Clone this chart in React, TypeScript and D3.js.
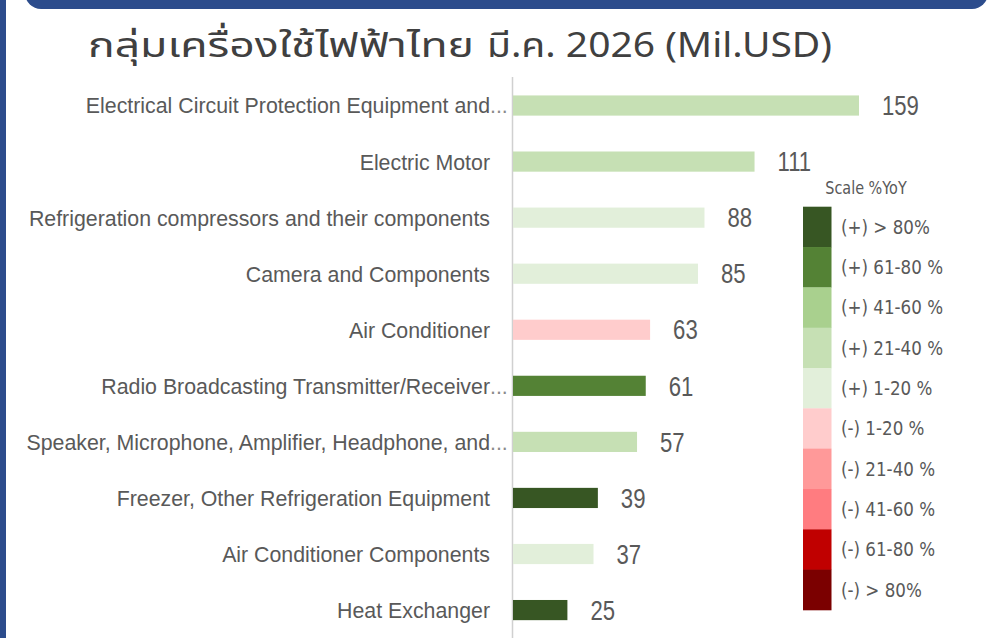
import React from "react";
import * as d3 from "d3";

const titleThai = "กลุ่มเครื่องใช้ไฟฟ้าไทย";
const titleRest = "มี.ค. 2026 (Mil.USD)";

const categories = [
  "Electrical Circuit Protection Equipment and...",
  "Electric Motor",
  "Refrigeration compressors and their components",
  "Camera and Components",
  "Air Conditioner",
  "Radio Broadcasting Transmitter/Receiver...",
  "Speaker, Microphone, Amplifier, Headphone, and...",
  "Freezer, Other Refrigeration Equipment",
  "Air Conditioner Components",
  "Heat Exchanger",
];

const values = [159, 111, 88, 85, 63, 61, 57, 39, 37, 25];

const yoyBucket = [
  "(+) 21-40 %",
  "(+) 21-40 %",
  "(+) 1-20 %",
  "(+) 1-20 %",
  "(-) 1-20 %",
  "(+) 61-80 %",
  "(+) 21-40 %",
  "(+) > 80%",
  "(+) 1-20 %",
  "(+) > 80%",
];

const legendTitle = "Scale %YoY";
const legendLabels = [
  "(+) > 80%",
  "(+) 61-80 %",
  "(+) 41-60 %",
  "(+) 21-40 %",
  "(+) 1-20 %",
  "(-) 1-20 %",
  "(-) 21-40 %",
  "(-) 41-60 %",
  "(-) 61-80 %",
  "(-) > 80%",
];
const legendColors = [
  "#375623",
  "#548235",
  "#A9D08E",
  "#C6E0B4",
  "#E2EFDA",
  "#FFCCCC",
  "#FF9999",
  "#FF7C80",
  "#C00000",
  "#7B0000",
];

const W = 999;
const H = 638;
const BLUE = "#2C4C8C";
const TEXT = "#595959";

export default function App() {
  const color = d3.scaleOrdinal<string, string>().domain(legendLabels).range(legendColors);
  const x = d3.scaleLinear().domain([0, 159]).range([513, 859]);
  const y = d3
    .scaleBand<string>()
    .domain(categories)
    .range([77.5, 638.1])
    .paddingInner(0.64)
    .paddingOuter(0.32);
  const ly = d3.scaleBand<string>().domain(legendLabels).range([206.7, 610]);

  const labelFont = "'Liberation Sans', Arial, sans-serif";
  const legendFont = "'DejaVu Sans', Verdana, sans-serif";
  const titleFont = "'Noto Sans Thai', 'Noto Sans', sans-serif";

  return (
    <svg
      width={W}
      height={H}
      style={{ position: "absolute", left: 0, top: 0, background: "#fff" }}
    >
      <rect x={0} y={0} width={W} height={H} fill="#fff" />
      {/* frame */}
      <rect x={0} y={0} width={6} height={H} fill={BLUE} />
      <rect x={25} y={-30} width={963} height={39} rx={16} ry={16} fill={BLUE} />

      {/* title */}
      <text
        x={88}
        y={57}
        fontFamily={titleFont}
        fontSize={34}
        fill="#404040"
        textLength={386}
        lengthAdjust="spacingAndGlyphs"
      >
        {titleThai}
      </text>
      <text
        x={487}
        y={57}
        fontFamily={titleFont}
        fontSize={34}
        fill="#404040"
        textLength={345}
        lengthAdjust="spacingAndGlyphs"
      >
        {titleRest}
      </text>

      {/* axis line */}
      <line x1={512.5} x2={512.5} y1={77} y2={H} stroke="#D0D0D0" strokeWidth={1.5} />

      {/* bars */}
      {categories.map((c, i) => {
        const yc = (y(c) as number) + y.bandwidth() / 2;
        const trunc = c.endsWith("...");
        const main = trunc ? c.slice(0, -3) : c;
        return (
          <g key={c}>
            <rect
              x={x(0)}
              y={y(c) as number}
              width={x(values[i]) - x(0)}
              height={y.bandwidth()}
              fill={color(yoyBucket[i])}
            />
            <text
              transform={`translate(490,${yc}) scale(0.97,1)`}
              dy="0.36em"
              textAnchor="end"
              fontFamily={labelFont}
              fontSize={22}
              fill={TEXT}
            >
              {main}
            </text>
            {trunc && (
              <text
                transform={`translate(490,${yc}) scale(0.97,1)`}
                dy="0.36em"
                textAnchor="start"
                fontFamily={labelFont}
                fontSize={22}
                fill="#8A8A8A"
              >
                ...
              </text>
            )}
            <text
              transform={`translate(${x(values[i]) + 23},${yc}) scale(0.82,1)`}
              dy="0.36em"
              fontFamily={labelFont}
              fontSize={27}
              fill={TEXT}
            >
              {values[i]}
            </text>
          </g>
        );
      })}

      {/* legend */}
      <text
        transform={`translate(866,188) scale(0.8,1)`}
        dy="0.36em"
        textAnchor="middle"
        fontFamily={legendFont}
        fontSize={18}
        fill={TEXT}
      >
        {legendTitle}
      </text>
      {legendLabels.map((l, i) => {
        const yy = ly(l) as number;
        return (
          <g key={l}>
            <rect x={803} y={yy} width={28.5} height={ly.bandwidth() + 0.3} fill={legendColors[i]} />
            <text
              transform={`translate(841,${yy + ly.bandwidth() / 2}) scale(0.88,1)`}
              dy="0.36em"
              fontFamily={legendFont}
              fontSize={19}
              fill={TEXT}
            >
              {l}
            </text>
          </g>
        );
      })}
    </svg>
  );
}
